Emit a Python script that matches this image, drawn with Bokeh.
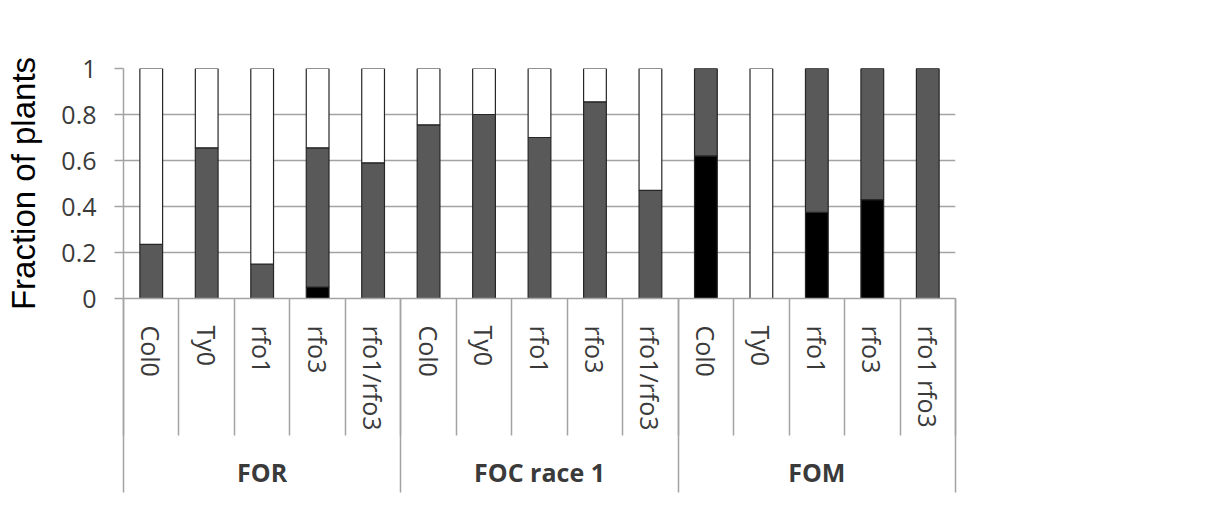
from bokeh.plotting import figure
from bokeh.models import (FactorRange, Range1d, LinearAxis, FixedTicker, NumeralTickFormatter,
                          Legend, LegendItem, Label, BoxAnnotation, ColumnDataSource)
from bokeh.embed import file_html
from bokeh.resources import INLINE

groups = ["FOR", "FOC race 1", "FOM"]
lines = [
    ["Col0", "Ty0", "rfo1", "rfo3", "rfo1/rfo3"],
    ["Col0", "Ty0", "rfo1", "rfo3", "rfo1/rfo3"],
    ["Col0", "Ty0", "rfo1", "rfo3", "rfo1 rfo3"],
]
resistant = [0.0, 0.0, 0.0, 0.05, 0.0, 0.0, 0.0, 0.0, 0.0, 0.0, 0.62, 0.0, 0.375, 0.43, 0.0]
intermediate = [0.235, 0.655, 0.15, 0.605, 0.59, 0.755, 0.80, 0.70, 0.855, 0.47, 0.38, 0.0, 0.625, 0.57, 1.0]
susceptible = [0.765, 0.345, 0.85, 0.345, 0.41, 0.245, 0.20, 0.30, 0.145, 0.53, 0.0, 1.0, 0.0, 0.0, 0.0]
y_ticks = [0, 0.2, 0.4, 0.6, 0.8, 1]
series_names = ["Resistant", "Intermediate", "Susceptible"]
series_colors = ["#000000", "#595959", "#ffffff"]

factors = [(g, l) for g, ls in zip(groups, lines) for l in ls]
n = len(factors)
group_bounds = [0]
for ls in lines:
    group_bounds.append(group_bounds[-1] + len(ls))

src = ColumnDataSource(dict(x=factors, Resistant=resistant, Intermediate=intermediate,
                            Susceptible=susceptible))

FONT = "Open Sans"
GRID = "#a3a3a3"
TXT = "#3a3a3a"

p = figure(x_range=FactorRange(*factors, group_padding=0, factor_padding=0, range_padding=0),
           y_range=Range1d(0, 1), width=1204, height=496,
           min_border_left=123, min_border_right=249, min_border_top=68, min_border_bottom=198,
           output_backend="svg", toolbar_location=None, tools="")
p.outline_line_color = None
p.xgrid.visible = False
p.ygrid.ticker = FixedTicker(ticks=y_ticks)
p.ygrid.grid_line_color = GRID
p.ygrid.grid_line_width = 1.5

# y axis
ya = p.yaxis[0]
ya.ticker = FixedTicker(ticks=y_ticks)
ya.formatter = NumeralTickFormatter(format="0.[0]")
ya.axis_line_color = GRID
ya.axis_line_width = 1.5
ya.major_tick_line_color = GRID
ya.major_tick_line_width = 1.5
ya.major_tick_in = 0
ya.major_tick_out = 9
ya.minor_tick_line_color = None
ya.major_label_standoff = 18
ya.major_label_text_font = FONT
ya.major_label_text_font_size = "25px"
ya.major_label_text_color = TXT
ya.axis_label = "Fraction of plants"
ya.axis_label_text_font = "Liberation Sans"
ya.axis_label_text_font_size = "33px"
ya.axis_label_text_font_style = "normal"
ya.axis_label_text_color = "#000000"
ya.axis_label_standoff = 16

# categorical x axis
xa = p.xaxis[0]
xa.axis_line_color = GRID
xa.axis_line_width = 1.5
xa.major_tick_line_color = None
xa.major_label_orientation = "vertical"
xa.major_label_standoff = 21
xa.major_label_text_font = FONT
xa.major_label_text_font_size = "25px"
xa.major_label_text_color = TXT
xa.group_text_font = FONT
xa.group_text_font_size = "25px"
xa.group_text_color = TXT
xa.separator_line_color = None

# separator lines between categories (ticks of a helper axis on the same range)
sep = LinearAxis(ticker=FixedTicker(ticks=group_bounds, minor_ticks=list(range(n + 1))),
                 axis_line_color=None,
                 major_tick_in=-194, major_tick_out=0,
                 minor_tick_in=-137, minor_tick_out=0,
                 major_tick_line_color=GRID, major_tick_line_width=1.5,
                 minor_tick_line_color=GRID, minor_tick_line_width=1.5,
                 major_label_text_font_size="0px", major_label_standoff=0)
p.below = [sep] + list(p.below)

rs = p.vbar_stack(series_names, x="x", width=0.41, source=src, fill_color=series_colors,
                  line_color="#262626", line_width=1.2)

legend = Legend(items=[LegendItem(label=series_names[i], renderers=[rs[i]]) for i in (2, 1, 0)],
                location=(879, -45), orientation="vertical",
                glyph_width=17, glyph_height=17, label_height=36, spacing=18,
                label_standoff=6, padding=0, margin=0,
                border_line_color=None, background_fill_alpha=0,
                label_text_font=FONT, label_text_font_size="25px", label_text_color="#262626")
p.add_layout(legend, "center")

# outer chart border
p.add_layout(BoxAnnotation(left=-1.496, right=40, top=1.148, bottom=-5,
                           fill_color=None, line_color="#a0a0a0", line_width=2))

# significance star above last bar
p.add_layout(Label(x=n - 0.5, y=1.157, text="*", text_align="center", text_baseline="alphabetic",
                   text_font="Liberation Sans", text_font_size="38px", text_font_style="bold",
                   text_color="#000000"))

open("out.html", "w").write(file_html(p, INLINE))
